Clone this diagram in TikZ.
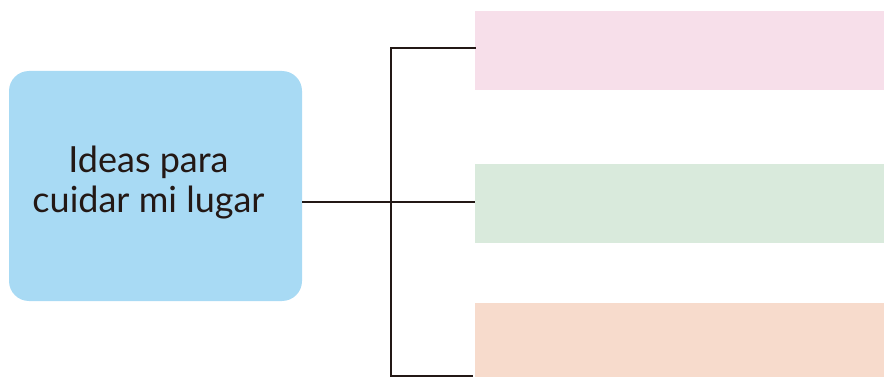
\documentclass[tikz,border=0pt]{standalone}
\usepackage{fontspec}
\setmainfont{Lato}
\definecolor{mainblue}{HTML}{A8DAF4}
\definecolor{boxpink}{HTML}{F7DFEA}
\definecolor{boxgreen}{HTML}{D9EADC}
\definecolor{boxorange}{HTML}{F7DBCC}
\definecolor{linec}{HTML}{231815}
\tikzset{
  mainbox/.style={fill=mainblue, rounded corners=20pt, inner sep=0pt, minimum width=293pt, minimum height=230pt},
  answerbox/.style={inner sep=0pt, minimum width=409pt, anchor=north west},
  conn/.style={draw=linec, line width=2.4pt}
}
\begin{document}
\begin{tikzpicture}[x=1pt,y=-1pt]
\useasboundingbox (0,0) rectangle (884,377);
\node[mainbox] (main) at (155.5,186) {};
\node[align=center, font=\fontsize{36}{40}\selectfont, text=linec, inner sep=0pt] (title) at (148.5,183) {Ideas para\\cuidar mi lugar};
\node[answerbox, fill=boxpink, minimum height=79pt] (pink) at (475,11) {};
\node[answerbox, fill=boxgreen, minimum height=79pt] (green) at (475,164) {};
\node[answerbox, fill=boxorange, minimum height=74pt] (orange) at (475,303) {};
\coordinate (ptop) at (475,48);
\coordinate (pbot) at (472,376);
\coordinate (j1) at (391,48);
\coordinate (j2) at (391,376);
\coordinate (mid) at (302,202);
\coordinate (gin) at (475,202);
\draw[conn] (mid) -- (gin);
\draw[conn, line cap=rect] (ptop) -- (j1) -- (j2) -- (pbot);
\end{tikzpicture}
\end{document}
